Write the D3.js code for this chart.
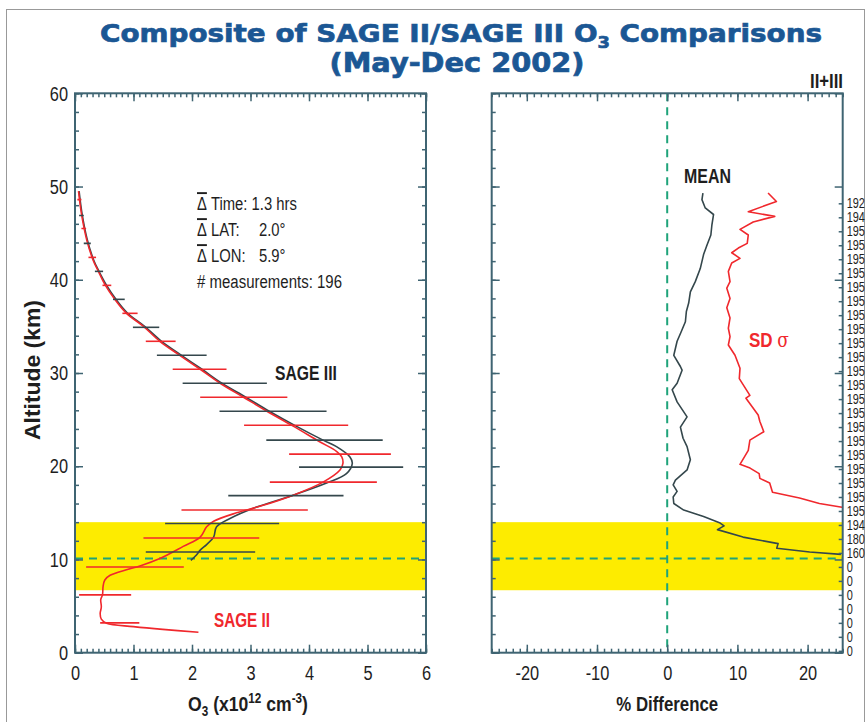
<!DOCTYPE html>
<html>
<head>
<meta charset="utf-8">
<script src="https://cdn.jsdelivr.net/npm/d3@7"></script>
<style>
    body { margin: 0; background: #fff; }
    svg text { font-family: "Liberation Sans", Arial, sans-serif; }
</style>
</head>
<body>
<svg id="chart" width="868" height="722"></svg>
<script>
// SAGE II profile (red) : altitude km / O3 x10^12 cm^-3
const sage2Alt = [2.2, 2.5, 2.8, 3.15, 3.6, 4.2, 4.9, 5.7, 6.2, 7.1, 7.8, 8.3, 8.9, 9.3, 10.1, 11.4, 12.4, 13.5, 14.1, 15.0, 15.7, 16.9, 18.3, 19.6, 20.3, 21.0, 21.6, 22.6, 24.3, 25.9, 27.4, 28.9, 30.4, 31.9, 33.4, 35.0, 36.4, 37.9, 39.5, 40.9, 42.1, 44.3, 47.1, 49.5];
const sage2O3 = [2.11, 1.5, 1.0, 0.54, 0.45, 0.43, 0.45, 0.44, 0.47, 0.48, 0.51, 0.60, 0.88, 1.11, 1.45, 1.85, 2.14, 2.25, 2.37, 2.76, 3.16, 3.73, 4.24, 4.53, 4.58, 4.56, 4.47, 4.19, 3.73, 3.28, 2.88, 2.48, 2.14, 1.79, 1.45, 1.17, 0.88, 0.68, 0.51, 0.40, 0.31, 0.20, 0.11, 0.06];

// SAGE III profile (dark)
const sage3Alt = [9.9, 10.5, 11.0, 11.6, 12.4, 13.5, 14.4, 15.5, 16.9, 18.2, 19.2, 20.3, 21.0, 22.1, 22.8, 24.3, 25.9, 27.4, 28.9, 30.4, 31.9, 33.4, 35.0, 36.4, 37.9, 39.5, 40.9, 42.1, 44.3, 47.1, 49.5];
const sage3O3 = [1.98, 2.08, 2.14, 2.25, 2.37, 2.42, 2.65, 3.05, 3.73, 4.30, 4.64, 4.74, 4.70, 4.47, 4.24, 3.78, 3.32, 2.92, 2.51, 2.17, 1.82, 1.48, 1.19, 0.90, 0.70, 0.53, 0.41, 0.32, 0.21, 0.12, 0.07];

// error bars
const sage2BarAlt = [3.2, 6.2, 9.2, 12.3, 15.3, 18.3, 21.3, 24.4, 27.4, 30.4, 33.4, 36.4, 39.4, 42.4, 45.5, 48.6];
const sage2BarLo = [0.43, 0.07, 0.19, 1.17, 1.82, 3.33, 3.66, 2.89, 2.14, 1.67, 1.21, 0.81, 0.47, 0.23, 0.11, 0.04];
const sage2BarHi = [1.10, 0.96, 1.86, 3.15, 3.98, 5.16, 5.40, 4.67, 3.63, 2.59, 1.72, 1.07, 0.62, 0.36, 0.19, 0.11];
const sage3BarAlt = [10.8, 13.85, 16.85, 19.9, 22.8, 25.9, 28.9, 31.9, 34.9, 37.9, 40.9, 43.9, 46.9];
const sage3BarLo = [1.21, 1.54, 2.62, 3.83, 3.27, 2.47, 1.84, 1.40, 0.99, 0.65, 0.34, 0.15, 0.07];
const sage3BarHi = [3.08, 3.49, 4.59, 5.61, 5.26, 4.30, 3.28, 2.25, 1.44, 0.85, 0.48, 0.27, 0.15];

// % difference: mean and standard deviation
const meanAlt = [10.55, 10.8, 11.2, 11.7, 12.4, 13.2, 13.6, 13.9, 14.6, 15.3, 16.0, 16.7, 17.3, 18.0, 18.5, 19.6, 20.7, 22.1, 23.0, 24.2, 25.3, 26.9, 28.2, 28.9, 30.3, 30.7, 31.9, 33.4, 34.4, 35.5, 36.6, 37.5, 38.7, 39.8, 41.2, 42.7, 43.7, 44.8, 45.9, 47.0, 47.7, 48.6, 49.3];
const meanPct = [24.75, 20.3, 15.6, 15.8, 10.8, 7.16, 8.1, 7.54, 5.18, 2.35, 0.94, 0.85, 1.41, 0.85, 1.17, 2.83, 3.30, 2.83, 2.26, 1.88, 2.83, 1.41, 0.71, 1.41, 2.12, 1.88, 0.94, 1.41, 1.98, 2.59, 2.73, 3.06, 3.30, 4.0, 4.71, 5.18, 5.66, 6.22, 6.37, 6.6, 5.42, 4.95, 5.09];
const sdAlt = [15.6, 16.0, 16.6, 17.2, 18.2, 18.7, 19.2, 19.8, 20.2, 21.7, 22.8, 23.7, 24.8, 25.5, 27.3, 27.6, 29.4, 30.5, 31.9, 33.0, 33.9, 34.8, 35.9, 37.0, 38.0, 39.1, 39.8, 40.9, 41.8, 42.3, 42.9, 43.4, 43.9, 44.8, 45.4, 46.2, 46.8, 47.3, 48.4, 49.3];
const sdPct = [24.9, 21.68, 18.85, 15.0, 14.6, 13.2, 13.1, 11.8, 10.37, 11.55, 11.78, 13.76, 13.2, 12.96, 11.22, 11.78, 10.27, 10.37, 9.66, 8.71, 8.95, 8.71, 8.95, 8.49, 8.95, 8.49, 8.95, 8.71, 9.19, 10.37, 9.19, 10.13, 11.40, 11.55, 10.37, 12.25, 15.32, 11.55, 15.56, 14.37];

// number of coincidences per level (right edge)
const countAlt = [0.2, 1.7, 3.2, 4.7, 6.2, 7.7, 9.2, 10.7, 12.2, 13.7, 15.2, 16.7, 18.2, 19.7, 21.2, 22.7, 24.2, 25.7, 27.2, 28.7, 30.2, 31.7, 33.2, 34.7, 36.2, 37.7, 39.2, 40.7, 42.2, 43.7, 45.2, 46.7, 48.2];
const counts = [0, 0, 0, 0, 0, 0, 0, 160, 180, 194, 195, 195, 195, 195, 195, 195, 195, 195, 195, 195, 195, 195, 195, 195, 195, 195, 195, 195, 195, 195, 195, 194, 192];

const tropBand = [6.7, 14.0];
const tropopause = 10.1;

const altMajor = [0, 10, 20, 30, 40, 50, 60];
const o3Major = [0, 1, 2, 3, 4, 5, 6];
const pctMajor = [-20, -10, 0, 10, 20];

const axisColor = "#3f6472";
const darkColor = "#34474c";
const textColor = "#1e1e1e";
const redColor = "#f0282d";
const greenDash = "#1fa37a";
const yellow = "#fdec00";
const narrow = 0.78;   // 細い書体の代わりに横方向に縮める

const svg = d3.select("#chart");

const yAlt = d3.scaleLinear([0, 60], [652.7, 93.3]);
const xO3 = d3.scaleLinear([0, 6], [75, 426]);
const xPct = d3.scaleLinear([-25, 25], [491.7, 842.7]);

// figure frame
svg.append("rect")
    .attr("x", 6.5).attr("y", 9.5).attr("width", 858).attr("height", 730)
    .attr("fill", "none").attr("stroke", "#999").attr("stroke-width", 1);

// 背景の帯と破線
[xO3, xPct].forEach(x => {
    const [x0, x1] = x.range();
    svg.append("rect")
        .attr("x", x0).attr("width", x1 - x0)
        .attr("y", yAlt(tropBand[1])).attr("height", yAlt(tropBand[0]) - yAlt(tropBand[1]))
        .attr("fill", yellow);
    svg.append("line")
        .attr("x1", x0).attr("x2", x1)
        .attr("y1", yAlt(tropopause)).attr("y2", yAlt(tropopause))
        .attr("stroke", greenDash).attr("stroke-width", 2).attr("stroke-dasharray", "8,6");
});
svg.append("line")
    .attr("x1", xPct(0)).attr("x2", xPct(0))
    .attr("y1", yAlt(60)).attr("y2", yAlt(0))
    .attr("stroke", greenDash).attr("stroke-width", 2).attr("stroke-dasharray", "8,6");

// clipping
svg.append("clipPath").attr("id", "clipL").append("rect")
    .attr("x", xO3(0)).attr("y", yAlt(60)).attr("width", xO3(6) - xO3(0)).attr("height", yAlt(0) - yAlt(60));
svg.append("clipPath").attr("id", "clipR").append("rect")
    .attr("x", xPct(-25)).attr("y", yAlt(60)).attr("width", xPct(25) - xPct(-25)).attr("height", yAlt(0) - yAlt(60));

const gL = svg.append("g").attr("clip-path", "url(#clipL)");
const gR = svg.append("g").attr("clip-path", "url(#clipR)");

function profile(g, xs, alts, color) {
    const line = d3.line().curve(d3.curveCatmullRom.alpha(0.5))
        .x(i => xO3(xs[i])).y(i => yAlt(alts[i]));
    g.append("path")
        .attr("d", line(d3.range(alts.length)))
        .attr("fill", "none").attr("stroke", color).attr("stroke-width", 1.6);
}

function bars(g, alts, lo, hi, color) {
    g.selectAll(null).data(alts).join("line")
        .attr("x1", (d, i) => xO3(lo[i])).attr("x2", (d, i) => xO3(hi[i]))
        .attr("y1", d => yAlt(d)).attr("y2", d => yAlt(d))
        .attr("stroke", color).attr("stroke-width", 1.6);
}

profile(gL, sage3O3, sage3Alt, darkColor);
profile(gL, sage2O3, sage2Alt, redColor);
bars(gL, sage3BarAlt, sage3BarLo, sage3BarHi, darkColor);
bars(gL, sage2BarAlt, sage2BarLo, sage2BarHi, redColor);

function jagged(g, xs, alts, color) {
    const line = d3.line().x(i => xPct(xs[i])).y(i => yAlt(alts[i]));
    g.append("path")
        .attr("d", line(d3.range(alts.length)))
        .attr("fill", "none").attr("stroke", color).attr("stroke-width", 1.6)
        .attr("stroke-linejoin", "round");
}
jagged(gR, meanPct, meanAlt, darkColor);
jagged(gR, sdPct, sdAlt, redColor);

// axes
function addAxis(axis, tx, ty, fontSize) {
    const g = svg.append("g").attr("transform", `translate(${tx},${ty})`).call(axis);
    g.select(".domain").remove();
    g.selectAll(".tick line").attr("stroke", axisColor).attr("stroke-width", 1.5);
    g.selectAll(".tick text")
        .attr("fill", textColor)
        .style("font-size", (fontSize || 21) + "px")
        .style("font-family", '"Liberation Sans", Arial, sans-serif')
        .attr("x", function () {
            const v = this.getAttribute("x");
            return v === null ? null : +v / narrow;
        })
        .attr("transform", `scale(${narrow},1)`);
    return g;
}

function panelAxes(x, xMajor, xMinorStep, rightTicks) {
    const [x0, x1] = x.range();
    const y0 = yAlt(0), y1 = yAlt(60);
    const dom = x.domain();
    const xMinor = d3.range(dom[0], dom[1] + 1e-6, xMinorStep);
    const altMinor = d3.range(0, 60.001, 2);
    addAxis(d3.axisBottom(x).tickValues(xMinor).tickSize(-4).tickSizeOuter(0).tickFormat(""), 0, y0);
    addAxis(d3.axisBottom(x).tickValues(xMajor).tickSize(-8).tickSizeOuter(0).tickPadding(12).tickFormat(d => d), 0, y0);
    addAxis(d3.axisTop(x).tickValues(xMinor).tickSize(-4).tickSizeOuter(0).tickFormat(""), 0, y1);
    addAxis(d3.axisTop(x).tickValues(xMajor).tickSize(-8).tickSizeOuter(0).tickFormat(""), 0, y1);
    addAxis(d3.axisLeft(yAlt).tickValues(altMinor).tickSize(-4).tickSizeOuter(0).tickFormat(""), x0, 0);
    addAxis(d3.axisRight(yAlt).tickValues(rightTicks).tickSize(-4).tickSizeOuter(0).tickFormat(""), x1, 0);
    addAxis(d3.axisRight(yAlt).tickValues(altMajor).tickSize(-8).tickSizeOuter(0).tickFormat(""), x1, 0);
    svg.append("rect")
        .attr("x", x0).attr("y", y1).attr("width", x1 - x0).attr("height", y0 - y1)
        .attr("fill", "none").attr("stroke", axisColor).attr("stroke-width", 2);
}

panelAxes(xO3, o3Major, 0.1, d3.range(0, 60.001, 2));
addAxis(d3.axisLeft(yAlt).tickValues(altMajor).tickSize(-8).tickSizeOuter(0).tickPadding(7).tickFormat(d => d), xO3(0), 0);

panelAxes(xPct, pctMajor, 1, countAlt);
addAxis(d3.axisLeft(yAlt).tickValues(altMajor).tickSize(-8).tickSizeOuter(0).tickFormat(""), xPct(-25), 0);
addAxis(d3.axisRight(yAlt).tickValues(countAlt).tickSize(0).tickSizeOuter(0).tickPadding(4)
    .tickFormat((d, i) => counts[i]), xPct(25), 0, 14);

// 文字を指定幅に合わせる
function fitText(t, x, y, width, anchor, rotate) {
    const w = t.node().getComputedTextLength();
    t.attr("text-anchor", anchor || "start")
        .attr("transform", `translate(${x},${y})${rotate ? " rotate(" + rotate + ")" : ""} scale(${width / w},1)`);
    return t;
}
function boldText(fill, size) {
    return svg.append("text").attr("font-weight", "bold").attr("font-size", size || 20).attr("fill", fill || textColor);
}

// title
const titleColor = "#1b5794";
const t1 = svg.append("text").attr("x", 461).attr("y", 42).attr("text-anchor", "middle")
    .attr("font-weight", "bold").attr("fill", titleColor).attr("stroke", titleColor).attr("stroke-width", 0.7)
    .style("font-family", '"DejaVu Sans", sans-serif').style("font-size", "25px")
    .attr("textLength", 722).attr("lengthAdjust", "spacingAndGlyphs");
t1.append("tspan").text("Composite of SAGE II/SAGE III O");
t1.append("tspan").attr("font-size", "16px").attr("dy", 6).text("3");
t1.append("tspan").attr("dy", -6).text(" Comparisons");
svg.append("text").attr("x", 457).attr("y", 72).attr("text-anchor", "middle")
    .attr("font-weight", "bold").attr("fill", titleColor).attr("stroke", titleColor).attr("stroke-width", 0.7)
    .style("font-family", '"DejaVu Sans", sans-serif').style("font-size", "26px")
    .attr("textLength", 255).attr("lengthAdjust", "spacingAndGlyphs")
    .text("(May-Dec 2002)");

fitText(boldText(textColor, 21).text("II+III"), 843, 88, 33, "end");

fitText(boldText(textColor, 22).text("Altitude (km)"), 40, 370, 140, "middle", -90);

const xl = boldText(textColor, 21);
xl.append("tspan").text("O");
xl.append("tspan").attr("font-size", 14).attr("dy", 5).text("3");
xl.append("tspan").attr("dy", -5).text(" (x10");
xl.append("tspan").attr("font-size", 14).attr("dy", -8).text("12");
xl.append("tspan").attr("dy", 8).text(" cm");
xl.append("tspan").attr("font-size", 14).attr("dy", -8).text("-3");
xl.append("tspan").attr("dy", 8).text(")");
fitText(xl, 248, 711, 120, "middle");

fitText(boldText(textColor, 21).text("% Difference"), xPct(0), 711, 102, "middle");

// annotation
const notes = [
    ["Time:", "1.3 hrs"],
    ["LAT:", "2.0°"],
    ["LON:", "5.9°"]
];
notes.forEach(([k, v], i) => {
    const y = 210 + i * 26;
    const t = svg.append("text").attr("font-size", 19).attr("fill", textColor)
        .attr("transform", `translate(197,${y}) scale(${narrow},1)`);
    t.append("tspan").style("text-decoration", "overline").text("Δ");
    t.append("tspan").text(" " + k);
    if (i === 0) t.append("tspan").text(" " + v);
    else svg.append("text").attr("font-size", 19).attr("fill", textColor)
        .attr("transform", `translate(259,${y}) scale(${narrow},1)`).text(v);
});
fitText(svg.append("text").attr("font-size", 19).attr("fill", textColor).text("# measurements: 196"), 197, 288, 145, "start");

fitText(boldText(textColor, 21).text("SAGE III"), 275, 380, 62, "start");
fitText(boldText(redColor, 21).text("SAGE II"), 214, 627, 56, "start");
fitText(boldText(textColor, 21).text("MEAN"), 684, 183, 47, "start");
const sd = boldText(redColor, 21);
sd.append("tspan").text("SD ");
sd.append("tspan").attr("font-family", '"DejaVu Serif", serif').attr("font-weight", "normal").text("σ");
fitText(sd, 749, 347, 40, "start");
</script>
</body>
</html>
